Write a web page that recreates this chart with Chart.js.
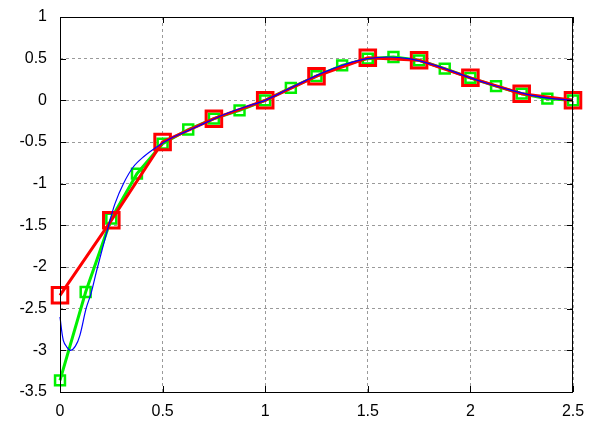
<!DOCTYPE html>
<html>
<head>
<meta charset="utf-8">
<script src="https://cdn.jsdelivr.net/npm/chart.js@4"></script>
<style>
  html, body { margin: 0; padding: 0; background: #fff; }
  #wrap { width: 595px; height: 424px; }
</style>
</head>
<body>
<div id="wrap"><canvas id="chart" width="595" height="424"></canvas></div>
<script>
// --- data ---
const coarseX = [0, 0.25, 0.5, 0.75, 1, 1.25, 1.5, 1.75, 2, 2.25, 2.5];
const coarseY = [-2.34, -1.44, -0.5, -0.22, 0.0, 0.29, 0.51, 0.48, 0.27, 0.08, 0.0];

const fineX = [0, 0.125, 0.25, 0.375, 0.5, 0.625, 0.75, 0.875, 1, 1.125, 1.25,
               1.375, 1.5, 1.625, 1.75, 1.875, 2, 2.125, 2.25, 2.375, 2.5];
const fineY = [-3.36, -2.3, -1.42, -0.88, -0.52, -0.35, -0.22, -0.12, 0.0, 0.15, 0.29,
               0.42, 0.5, 0.52, 0.48, 0.38, 0.27, 0.17, 0.08, 0.02, 0.0];

const curveX = [0, 0.016, 0.033, 0.052, 0.075, 0.097, 0.127, 0.151, 0.18, 0.21, 0.235,
                0.268, 0.309, 0.357, 0.406, 0.471, 0.536, 0.6, 0.7, 0.8, 0.9,
                1.0, 1.1, 1.2, 1.3, 1.4, 1.5, 1.6, 1.7, 1.8, 1.9, 2.0, 2.1, 2.2, 2.3, 2.4, 2.5];
const curveY = [-2.6, -2.88, -2.96, -3.0, -2.95, -2.82, -2.5, -2.32, -2.03, -1.75, -1.52,
                -1.24, -1.0, -0.8, -0.68, -0.56, -0.46, -0.39, -0.28, -0.17, -0.08,
                0.0, 0.12, 0.24, 0.35, 0.44, 0.5, 0.52, 0.5, 0.44, 0.36, 0.27, 0.19, 0.12, 0.06, 0.02, 0.0];

const xTicks = [0, 0.5, 1, 1.5, 2, 2.5];
const yTicks = [-3.5, -3, -2.5, -2, -1.5, -1, -0.5, 0, 0.5, 1];

const pts = (xs, ys) => xs.map((x, i) => ({ x: x, y: ys[i] }));

// box around the plot + small inward tick marks on all four sides
const framePlugin = {
    id: 'frame',
    afterDraw(chart) {
        const { ctx, chartArea: a, scales } = chart;
        ctx.save();
        ctx.strokeStyle = '#000';
        ctx.lineWidth = 1;
        ctx.strokeRect(Math.round(a.left) + 0.5, Math.round(a.top) + 0.5,
                       Math.round(a.right - a.left) - 1, Math.round(a.bottom - a.top));
        ctx.beginPath();
        xTicks.forEach(v => {
            const px = Math.round(scales.x.getPixelForValue(v)) + 0.5;
            ctx.moveTo(px, a.top); ctx.lineTo(px, a.top + 6);
            ctx.moveTo(px, a.bottom); ctx.lineTo(px, a.bottom - 6);
        });
        yTicks.forEach(v => {
            const py = Math.round(scales.y.getPixelForValue(v)) + 0.5;
            ctx.moveTo(a.left, py); ctx.lineTo(a.left + 6, py);
            ctx.moveTo(a.right, py); ctx.lineTo(a.right - 6, py);
        });
        ctx.stroke();
        ctx.restore();
    }
};

const ctx = document.getElementById('chart').getContext('2d');
new Chart(ctx, {
    type: 'scatter',
    data: {
        datasets: [
            {
                label: 'curve',
                data: pts(curveX, curveY),
                showLine: true,
                borderColor: '#0000ff',
                borderWidth: 1.2,
                pointRadius: 0,
                tension: 0.35,
                clip: false,
                order: 0
            },
            {
                label: 'coarse',
                data: pts(coarseX, coarseY),
                showLine: true,
                borderColor: '#ff0000',
                backgroundColor: 'rgba(0,0,0,0)',
                borderWidth: 3,
                pointStyle: 'rect',
                pointRadius: 11,
                pointBorderWidth: 3,
                pointBorderColor: '#ff0000',
                pointBackgroundColor: 'rgba(0,0,0,0)',
                tension: 0,
                clip: false,
                order: 1
            },
            {
                label: 'fine',
                data: pts(fineX, fineY),
                showLine: true,
                borderColor: '#00f000',
                backgroundColor: 'rgba(0,0,0,0)',
                borderWidth: 3,
                pointStyle: 'rect',
                pointRadius: 7,
                pointBorderWidth: 2.5,
                pointBorderColor: '#00f000',
                pointBackgroundColor: 'rgba(0,0,0,0)',
                tension: 0,
                clip: false,
                order: 2
            }
        ]
    },
    options: {
        responsive: false,
        animation: false,
        events: [],
        layout: { padding: { left: 0, right: 22, top: 0, bottom: 0 } },
        plugins: {
            legend: { display: false },
            tooltip: { enabled: false }
        },
        scales: {
            x: {
                type: 'linear',
                min: 0,
                max: 2.5,
                afterFit: (scale) => { scale.height = 32; },
                afterBuildTicks: (scale) => { scale.ticks = xTicks.map(v => ({ value: v })); },
                ticks: {
                    color: '#000',
                    font: { family: 'Liberation Sans, Arial', size: 16 },
                    padding: 10,
                    maxRotation: 0,
                    callback: (v) => String(v)
                },
                grid: { color: '#9a9a9a', lineWidth: 1, drawTicks: false },
                border: { display: false, dash: [3, 3] }
            },
            y: {
                type: 'linear',
                min: -3.5,
                max: 1,
                afterFit: (scale) => { scale.width = 60; },
                afterBuildTicks: (scale) => { scale.ticks = yTicks.map(v => ({ value: v })); },
                ticks: {
                    color: '#000',
                    font: { family: 'Liberation Sans, Arial', size: 16 },
                    padding: 7.4,
                    callback: (v) => String(v)
                },
                grid: { color: '#9a9a9a', lineWidth: 1, drawTicks: true, tickLength: 5.6, tickColor: 'rgba(0,0,0,0)' },
                border: { display: false, dash: [3, 3] }
            }
        }
    },
    plugins: [framePlugin]
});
</script>
</body>
</html>
